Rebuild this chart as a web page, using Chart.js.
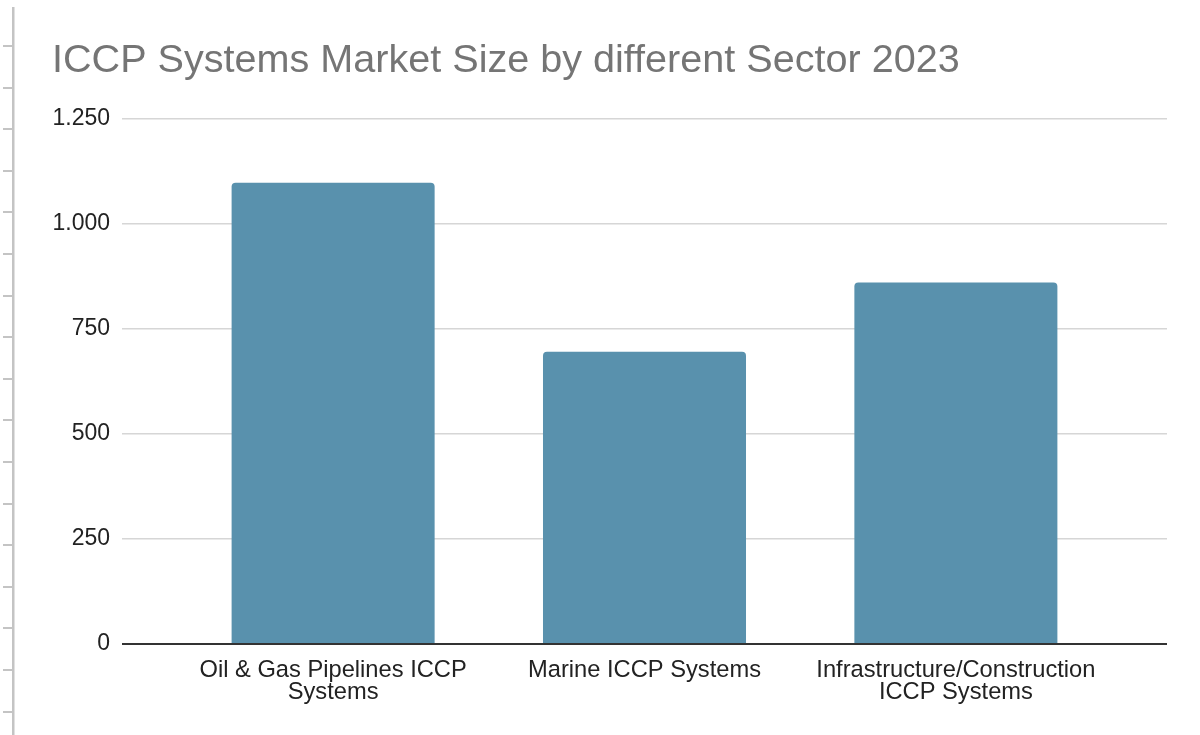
<!DOCTYPE html>
<html>
<head>
<meta charset="utf-8">
<script src="https://cdn.jsdelivr.net/npm/chart.js@4"></script>
<style>
  html, body { margin: 0; padding: 0; background: #fff; }
  #wrap { width: 1200px; height: 735px; position: relative; }
</style>
</head>
<body>
<div id="wrap"><canvas id="chart"></canvas></div>
<script>
const categories = [
    ['Oil & Gas Pipelines ICCP', 'Systems'],
    ['Marine ICCP Systems'],
    ['Infrastructure/Construction', 'ICCP Systems']
];
const marketSize = [1097, 695, 860];
const yTicks = [0, 250, 500, 750, 1000, 1250];

const FONT = '"Liberation Sans", Arial, sans-serif';

// the spreadsheet ruler on the far left of the screenshot
const ruler = {
    id: 'ruler',
    beforeDraw(chart) {
        const ctx = chart.ctx;
        ctx.save();
        ctx.fillStyle = '#ffffff';
        ctx.fillRect(0, 0, chart.width, chart.height);
        ctx.fillStyle = '#c4c4c4';
        ctx.fillRect(12, 7, 2.5, chart.height - 7);
        for (let y = 45; y < chart.height; y += 41.6) {
            ctx.fillRect(3, Math.round(y), 9, 2);
        }
        ctx.restore();
    }
};

function dotThousands(v) {
    return String(v).replace(/\B(?=(\d{3})+(?!\d))/g, '.');
}

const CHART = document.getElementById('chart');

const chart = new Chart(CHART, {
    type: 'bar',
    plugins: [ruler],
    data: {
        datasets: [{
            label: 'Market Size',
            data: marketSize.map((v, i) => ({x: i, y: v})),
            backgroundColor: '#5991ad',
            borderRadius: 4,
            categoryPercentage: 1,
            barPercentage: 0.652
        }]
    },
    options: {
        responsive: true,
        maintainAspectRatio: false,
        animation: false,
        layout: {
            padding: {left: 52, right: 33, top: 37, bottom: 20}
        },
        plugins: {
            legend: {display: false},
            tooltip: {enabled: false},
            title: {
                display: true,
                text: 'ICCP Systems Market Size by different Sector 2023',
                align: 'start',
                color: '#757575',
                font: {family: FONT, size: 39.6, weight: 'normal', lineHeight: 1.2},
                padding: {top: 0, bottom: 34}
            }
        },
        scales: {
            x: {
                type: 'linear',
                offset: false,
                min: -0.678,
                max: 2.678,
                grid: {display: false, drawTicks: false},
                border: {display: false},
                afterBuildTicks: s => {
                    s.ticks = categories.map((c, i) => ({value: i}));
                },
                afterFit: s => { s.height = 71; },
                ticks: {
                    autoSkip: false,
                    maxRotation: 0,
                    padding: 15,
                    color: '#222222',
                    font: {family: FONT, size: 23.7, lineHeight: 0.94},
                    callback: v => categories[v]
                }
            },
            y: {
                min: yTicks[0],
                max: yTicks[yTicks.length - 1],
                afterFit: s => { s.width = 70; },
                afterBuildTicks: s => {
                    s.ticks = yTicks.map(v => ({value: v}));
                },
                border: {display: false},
                grid: {
                    drawTicks: false,
                    color: c => c.tick.value === 0 ? '#333333' : '#d6d6d6',
                    lineWidth: c => c.tick.value === 0 ? 2 : 1.5
                },
                ticks: {
                    padding: 12,
                    color: '#222222',
                    font: {family: FONT, size: 23},
                    callback: v => dotThousands(v)
                }
            }
        }
    }
});
</script>
</body>
</html>
